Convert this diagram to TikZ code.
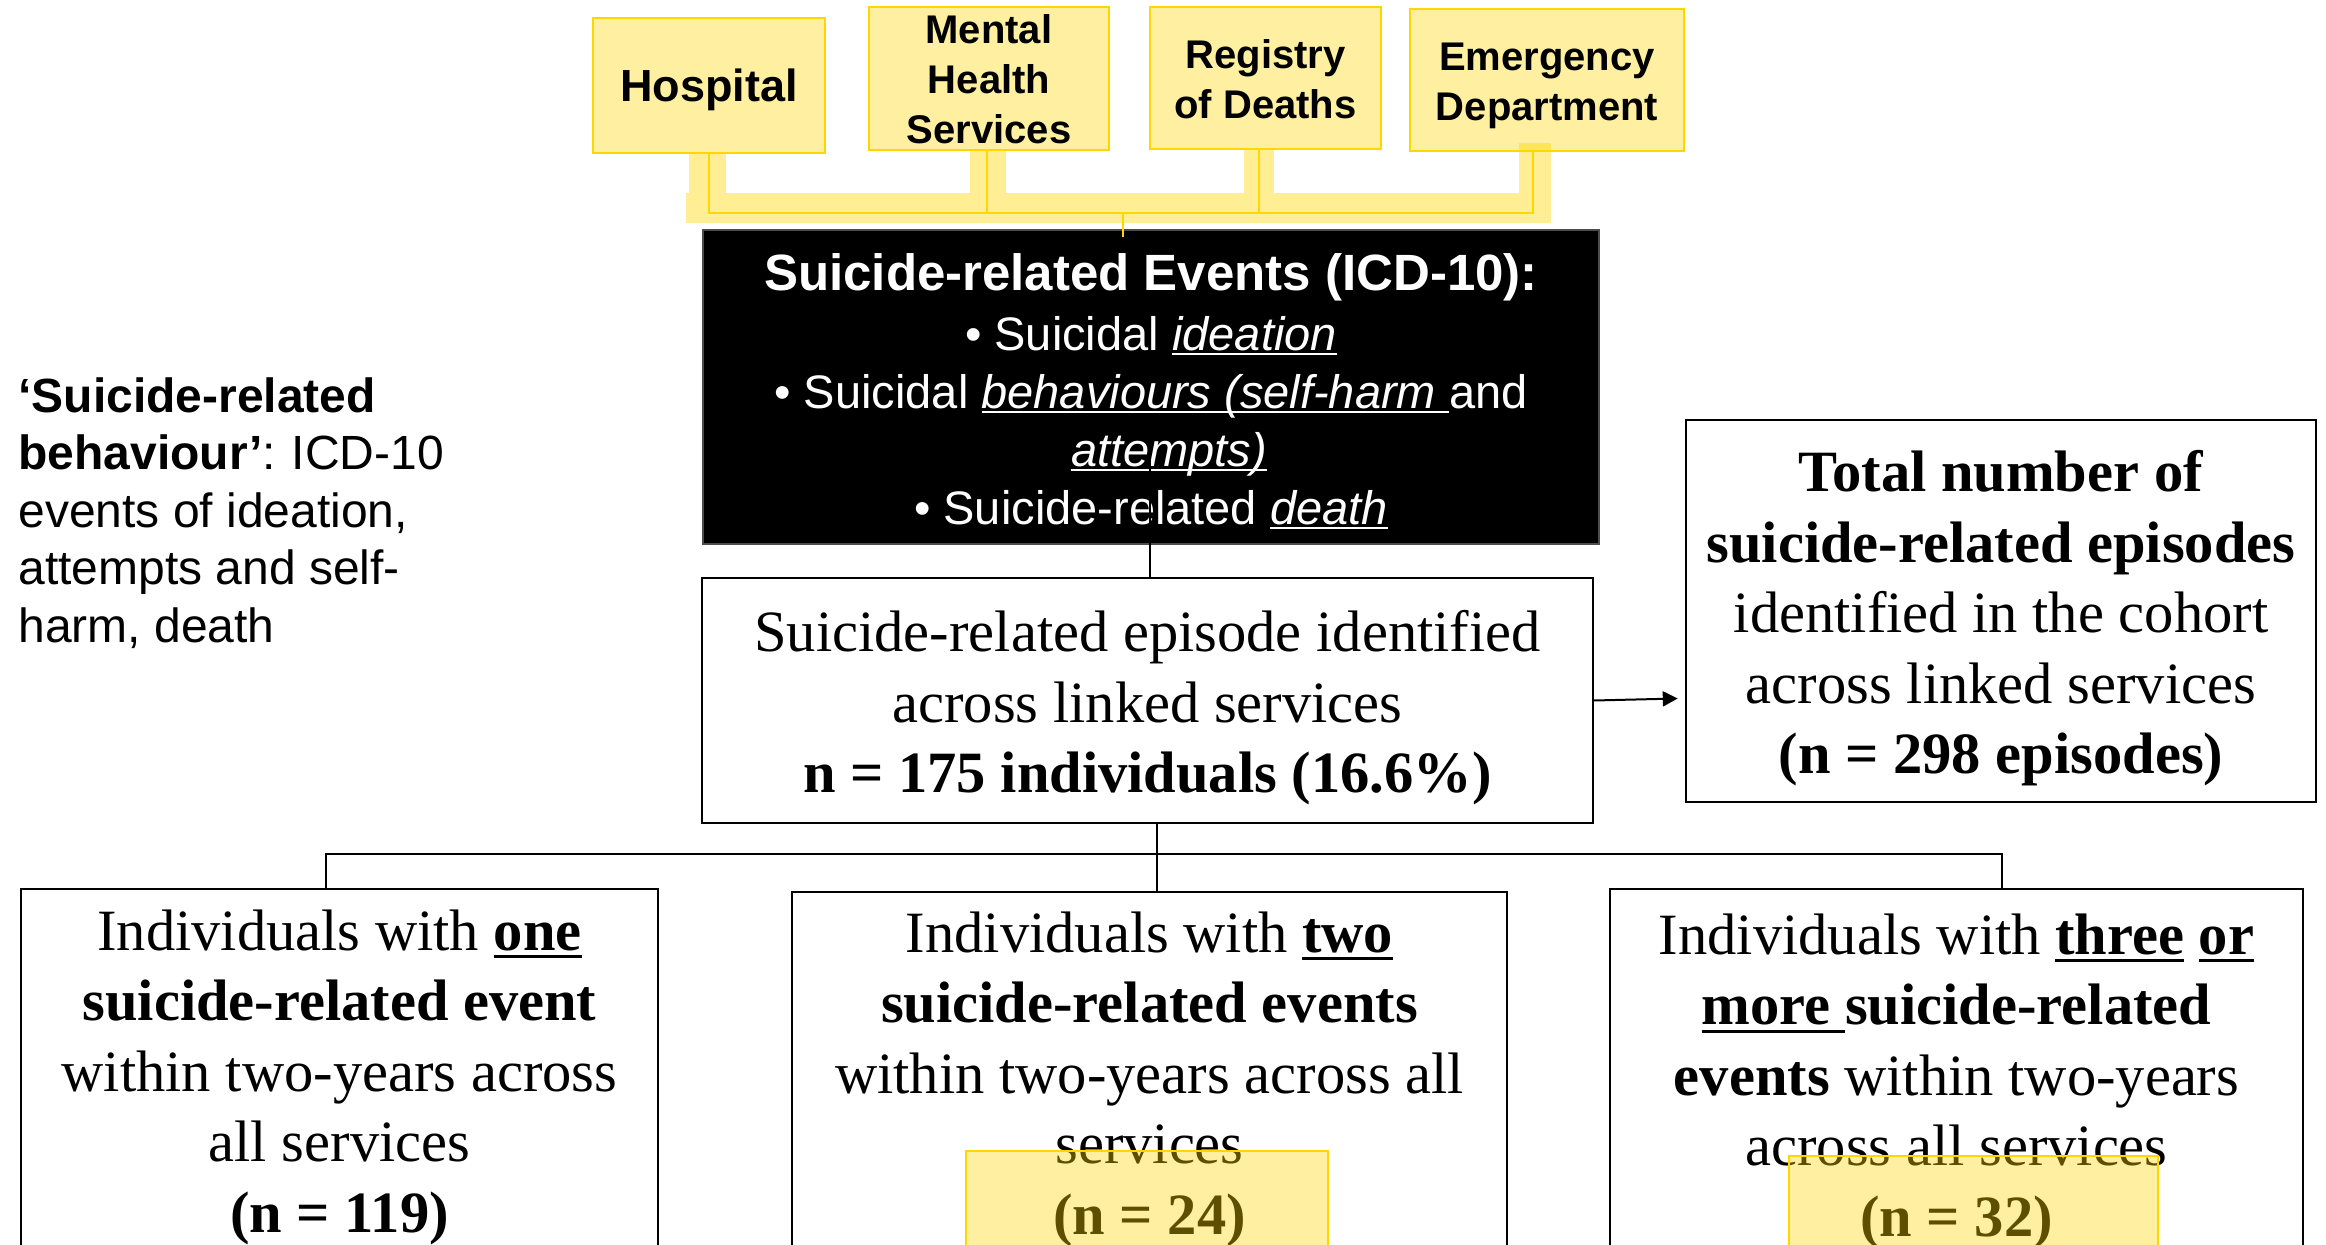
\documentclass[tikz,border=0pt]{standalone}
\usepackage{fontspec}
\setmainfont{Liberation Serif}
\newfontfamily\sansf{Liberation Sans}
\usetikzlibrary{arrows.meta}
\definecolor{gold}{RGB}{255,215,0}
\definecolor{lightyel}{RGB}{255,240,161}
\newlength\ulgap
\newlength\ulth
\newcommand\ulx[1]{\leavevmode\vtop{\hbox{\smash{#1}}\kern\ulgap\hrule height\ulth}}
\begin{document}
\begin{tikzpicture}[x=0.5pt,y=-0.5pt,
  srcbox/.style={draw=gold, line width=1.2pt, fill=lightyel, inner sep=0pt},
  srctext/.style={inner sep=0pt, align=center, font={\sansf\bfseries\fontsize{20}{25}\selectfont}},
  band/.style={fill=gold, fill opacity=0.42},
  goldline/.style={draw=gold, line width=1pt},
  blackbox/.style={fill=black, draw=black!70, line width=1pt, inner sep=0pt},
  blacktext/.style={text=white, inner sep=0pt, align=center,
    font={\sansf\fontsize{23.5}{29}\selectfont\setlength\ulgap{1.5pt}\setlength\ulth{1pt}}},
  whitebox/.style={draw=black, line width=1.2pt, fill=white, inner sep=0pt},
  whitetext/.style={inner sep=0pt, align=center,
    font={\fontsize{29.25}{35.25}\selectfont\setlength\ulgap{2.5pt}\setlength\ulth{1.5pt}}},
  conn/.style={draw=black, line width=1pt},
  overlay/.style={fill=gold, fill opacity=0.37, draw=gold, line width=1.2pt}
]
\useasboundingbox (0,0) rectangle (2326,1245);
\clip (0,0) rectangle (2326,1245);
\fill[white] (0,0) rectangle (2326,1245);

% source boxes
\node[srcbox, minimum width=116pt, minimum height=67.5pt] (hosp) at (709,85.5) {};
\node[srctext, font={\sansf\bfseries\fontsize{22.5}{27}\selectfont}] (hosptxt) at ([yshift=-2.2pt]hosp.center) {Hospital};
\node[srcbox, minimum width=120pt, minimum height=71.5pt] (mhs) at (989,78.5) {};
\node[srctext] (mhstxt) at ([yshift=-0.3pt]mhs.center) {Mental\\Health\\Services};
\node[srcbox, minimum width=115.5pt, minimum height=71pt] (reg) at (1265.5,78) {};
\node[srctext] (regtxt) at ([yshift=-0.7pt]reg.center) {Registry\\of Deaths};
\node[srcbox, minimum width=137pt, minimum height=71pt] (ed) at (1547,80) {};
\node[srctext] (edtxt) at ([yshift=-2.8pt]ed.center) {Emergency\\Department};

% highlight bands
\fill[band] (686,193) rectangle (1551,223);
\fill[band] (689,153) rectangle (726,193);
\fill[band] (970,150) rectangle (1006,193);
\fill[band] (1244,149) rectangle (1274,193);
\fill[band] (1519,143) rectangle (1551,193);

% black box
\node[blackbox, minimum width=448pt, minimum height=157pt] (black) at (1151,387) {};
\node[blacktext] (blacktxt) at ([yshift=-2.2pt]black.center)
 {{\fontsize{25.5}{29}\selectfont\bfseries Suicide-related Events (ICD-10):}\\[1pt]
  • Suicidal \ulx{\textit{ideation}}\\
  • Suicidal \ulx{\textit{behaviours (self-harm }}and\\
  \hspace*{18pt}\ulx{\textit{attempts)}}\\
  • Suicide-related \ulx{\textit{death}}};

% gold connectors
\coordinate (busL) at (709,213);
\coordinate (busR) at (1533,213);
\coordinate (bus0) at (1123,213);
\draw[goldline] (hosp.south) -- (hosp.south |- busL) -- (busR) -- (busR |- ed.south);
\draw[goldline] ([xshift=-1pt]mhs.south) -- ([xshift=-1pt]mhs.south |- busL);
\draw[goldline] ([xshift=-3.25pt]reg.south) -- ([xshift=-3.25pt]reg.south |- busL);
\draw[goldline] (bus0) -- ([yshift=-4pt]bus0 |- black.north);

% left note
\node[anchor=west, align=left, inner sep=0pt, font={\sansf\fontsize{24}{28.75}\selectfont}] (note) at (18,513)
 {\textbf{‘Suicide-related}\\\textbf{behaviour’}:\hspace{-1pt} ICD-10\\events of ideation,\\attempts and self-\\harm, death};

% episode box
\node[whitebox, minimum width=445.5pt, minimum height=122.5pt] (episode) at (1147.5,700.5) {};
\node[whitetext] (episodetxt) at ([yshift=-3.7pt]episode.center)
 {Suicide-related episode identified\\across linked services\\\textbf{n = 175 individuals (16.6\%)}};

% total box
\node[whitebox, minimum width=315pt, minimum height=191pt] (total) at (2001,611) {};
\node[whitetext] (totaltxt) at ([yshift=-3.7pt]total.center)
 {\textbf{Total number of}\\\textbf{suicide-related episodes}\\identified in the cohort\\across linked services\\\textbf{(n = 298 episodes)}};

% bottom boxes
\node[whitebox, anchor=north, minimum width=318.5pt, minimum height=182pt] (one) at (339.5,888) {};
\node[whitetext] (onetxt) at ([yshift=-3pt]one.center)
 {Individuals with \ulx{\textbf{one}}\\\textbf{suicide-related event}\\within two-years across\\all services\\\textbf{(n = 119)}};
\node[whitebox, anchor=north, minimum width=357.5pt, minimum height=181pt] (two) at (1149.5,891) {};
\node[whitetext] (twotxt) at ([yshift=-3pt]two.center)
 {Individuals with \ulx{\textbf{two}}\\\textbf{suicide-related events}\\within two-years across all\\services\\\textbf{(n = 24)}};
\node[whitebox, anchor=north, minimum width=346.5pt, minimum height=186pt] (three) at (1956.5,888) {};
\node[whitetext] (threetxt) at ([yshift=-3pt]three.center)
 {Individuals with \ulx{\textbf{three}} \ulx{\textbf{or}}\\\ulx{\textbf{more }}\textbf{suicide-related}\\\textbf{events} within two-years\\across all services\\\textbf{(n = 32)}};

% highlight overlays
\filldraw[overlay] (966,1151) rectangle (1328,1270);
\filldraw[overlay] (1789,1156) rectangle (2158,1270);

% black connectors
\coordinate (c1) at (326,854);
\coordinate (cj) at (1157,854);
\coordinate (c3) at (2002,854);
\coordinate (bin) at (1150,425);
\draw[conn] (episode.north -| bin) -- (bin);
\draw[conn] (c1 |- one.north) -- (c1) -- (c3) -- (c3 |- three.north);
\draw[conn] (episode.south -| cj) -- (two.north -| cj);
\draw[conn, -{Triangle[length=7.5pt,width=7.5pt]}] (episode.east) -- ([xshift=-3.5pt, yshift=1pt]total.west |- episode.east);
\end{tikzpicture}
\end{document}
